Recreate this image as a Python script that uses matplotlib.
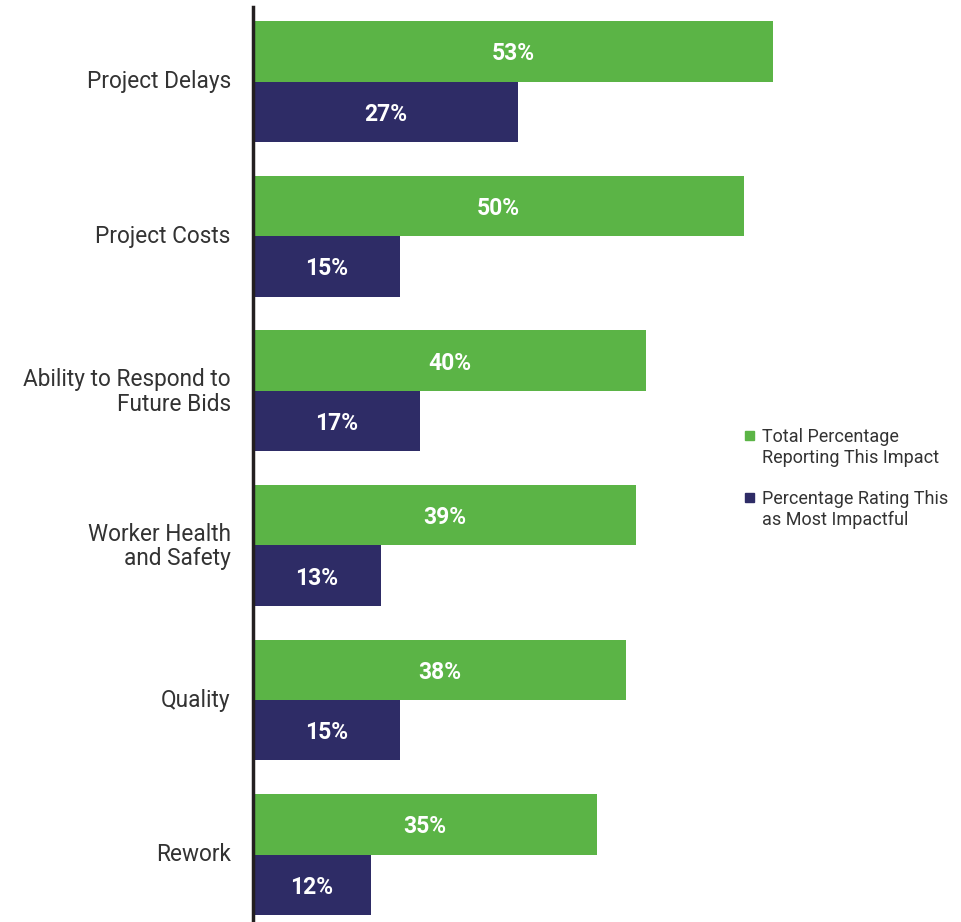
import matplotlib
matplotlib.use("Agg")
import matplotlib.pyplot as plt
from matplotlib.patches import Rectangle

# impact categories, top to bottom
categories = ["Project Delays", "Project Costs", "Ability to Respond to\nFuture Bids",
              "Worker Health\nand Safety", "Quality", "Rework"]
total_pct = [53, 50, 40, 39, 38, 35]
most_pct = [27, 15, 17, 13, 15, 12]
legend_labels = ["Total Percentage\nReporting This Impact",
                 "Percentage Rating This\nas Most Impactful"]

GREEN = "#5bb446"
NAVY = "#2e2c66"
TEXT = "#333333"

plt.rcParams["font.family"] = ["Roboto", "DejaVu Sans"]

W, H = 962, 922
fig = plt.figure(figsize=(W / 100, H / 100), dpi=100)
ax = fig.add_axes([253 / W, 0, 707 / W, (H - 7) / H])

h = 0.391
ys = list(range(len(categories)))
ax.barh([y - h / 2 for y in ys], total_pct, height=h, color=GREEN)
ax.barh([y + h / 2 for y in ys], most_pct, height=h, color=NAVY)

for y, t, m in zip(ys, total_pct, most_pct):
    ax.text(t / 2, y - h / 2, f"{t}%", ha="center", va="center_baseline",
            color="white", fontsize=16.5, fontweight="bold")
    ax.text(m / 2, y + h / 2, f"{m}%", ha="center", va="center_baseline",
            color="white", fontsize=16.5, fontweight="bold")

ax.set_xlim(0, 72)
ax.set_ylim(5.436, -0.482)
ax.set_yticks([y - 0.015 for y in ys])
ax.set_yticklabels(categories, fontsize=16.3, color=TEXT, ha="right",
                   linespacing=1.1)
ax.tick_params(axis="y", length=0, pad=16)
ax.set_xticks([])
for s in ["top", "right", "bottom"]:
    ax.spines[s].set_visible(False)
ax.spines["left"].set_linewidth(2.5)
ax.spines["left"].set_color("#231f20")

# legend drawn by hand: square marker aligned with the first text line
for (top, col), lab in zip([(431, GREEN), (493, NAVY)], legend_labels):
    fig.patches.append(Rectangle((745 / W, 1 - (top + 9) / H), 9 / W, 9 / H,
                                 transform=fig.transFigure, color=col))
    fig.text(762 / W, 1 - (top - 3) / H, lab, ha="left", va="top",
             fontsize=13, color=TEXT, linespacing=1.2)

fig.savefig("out.png", dpi=100)
